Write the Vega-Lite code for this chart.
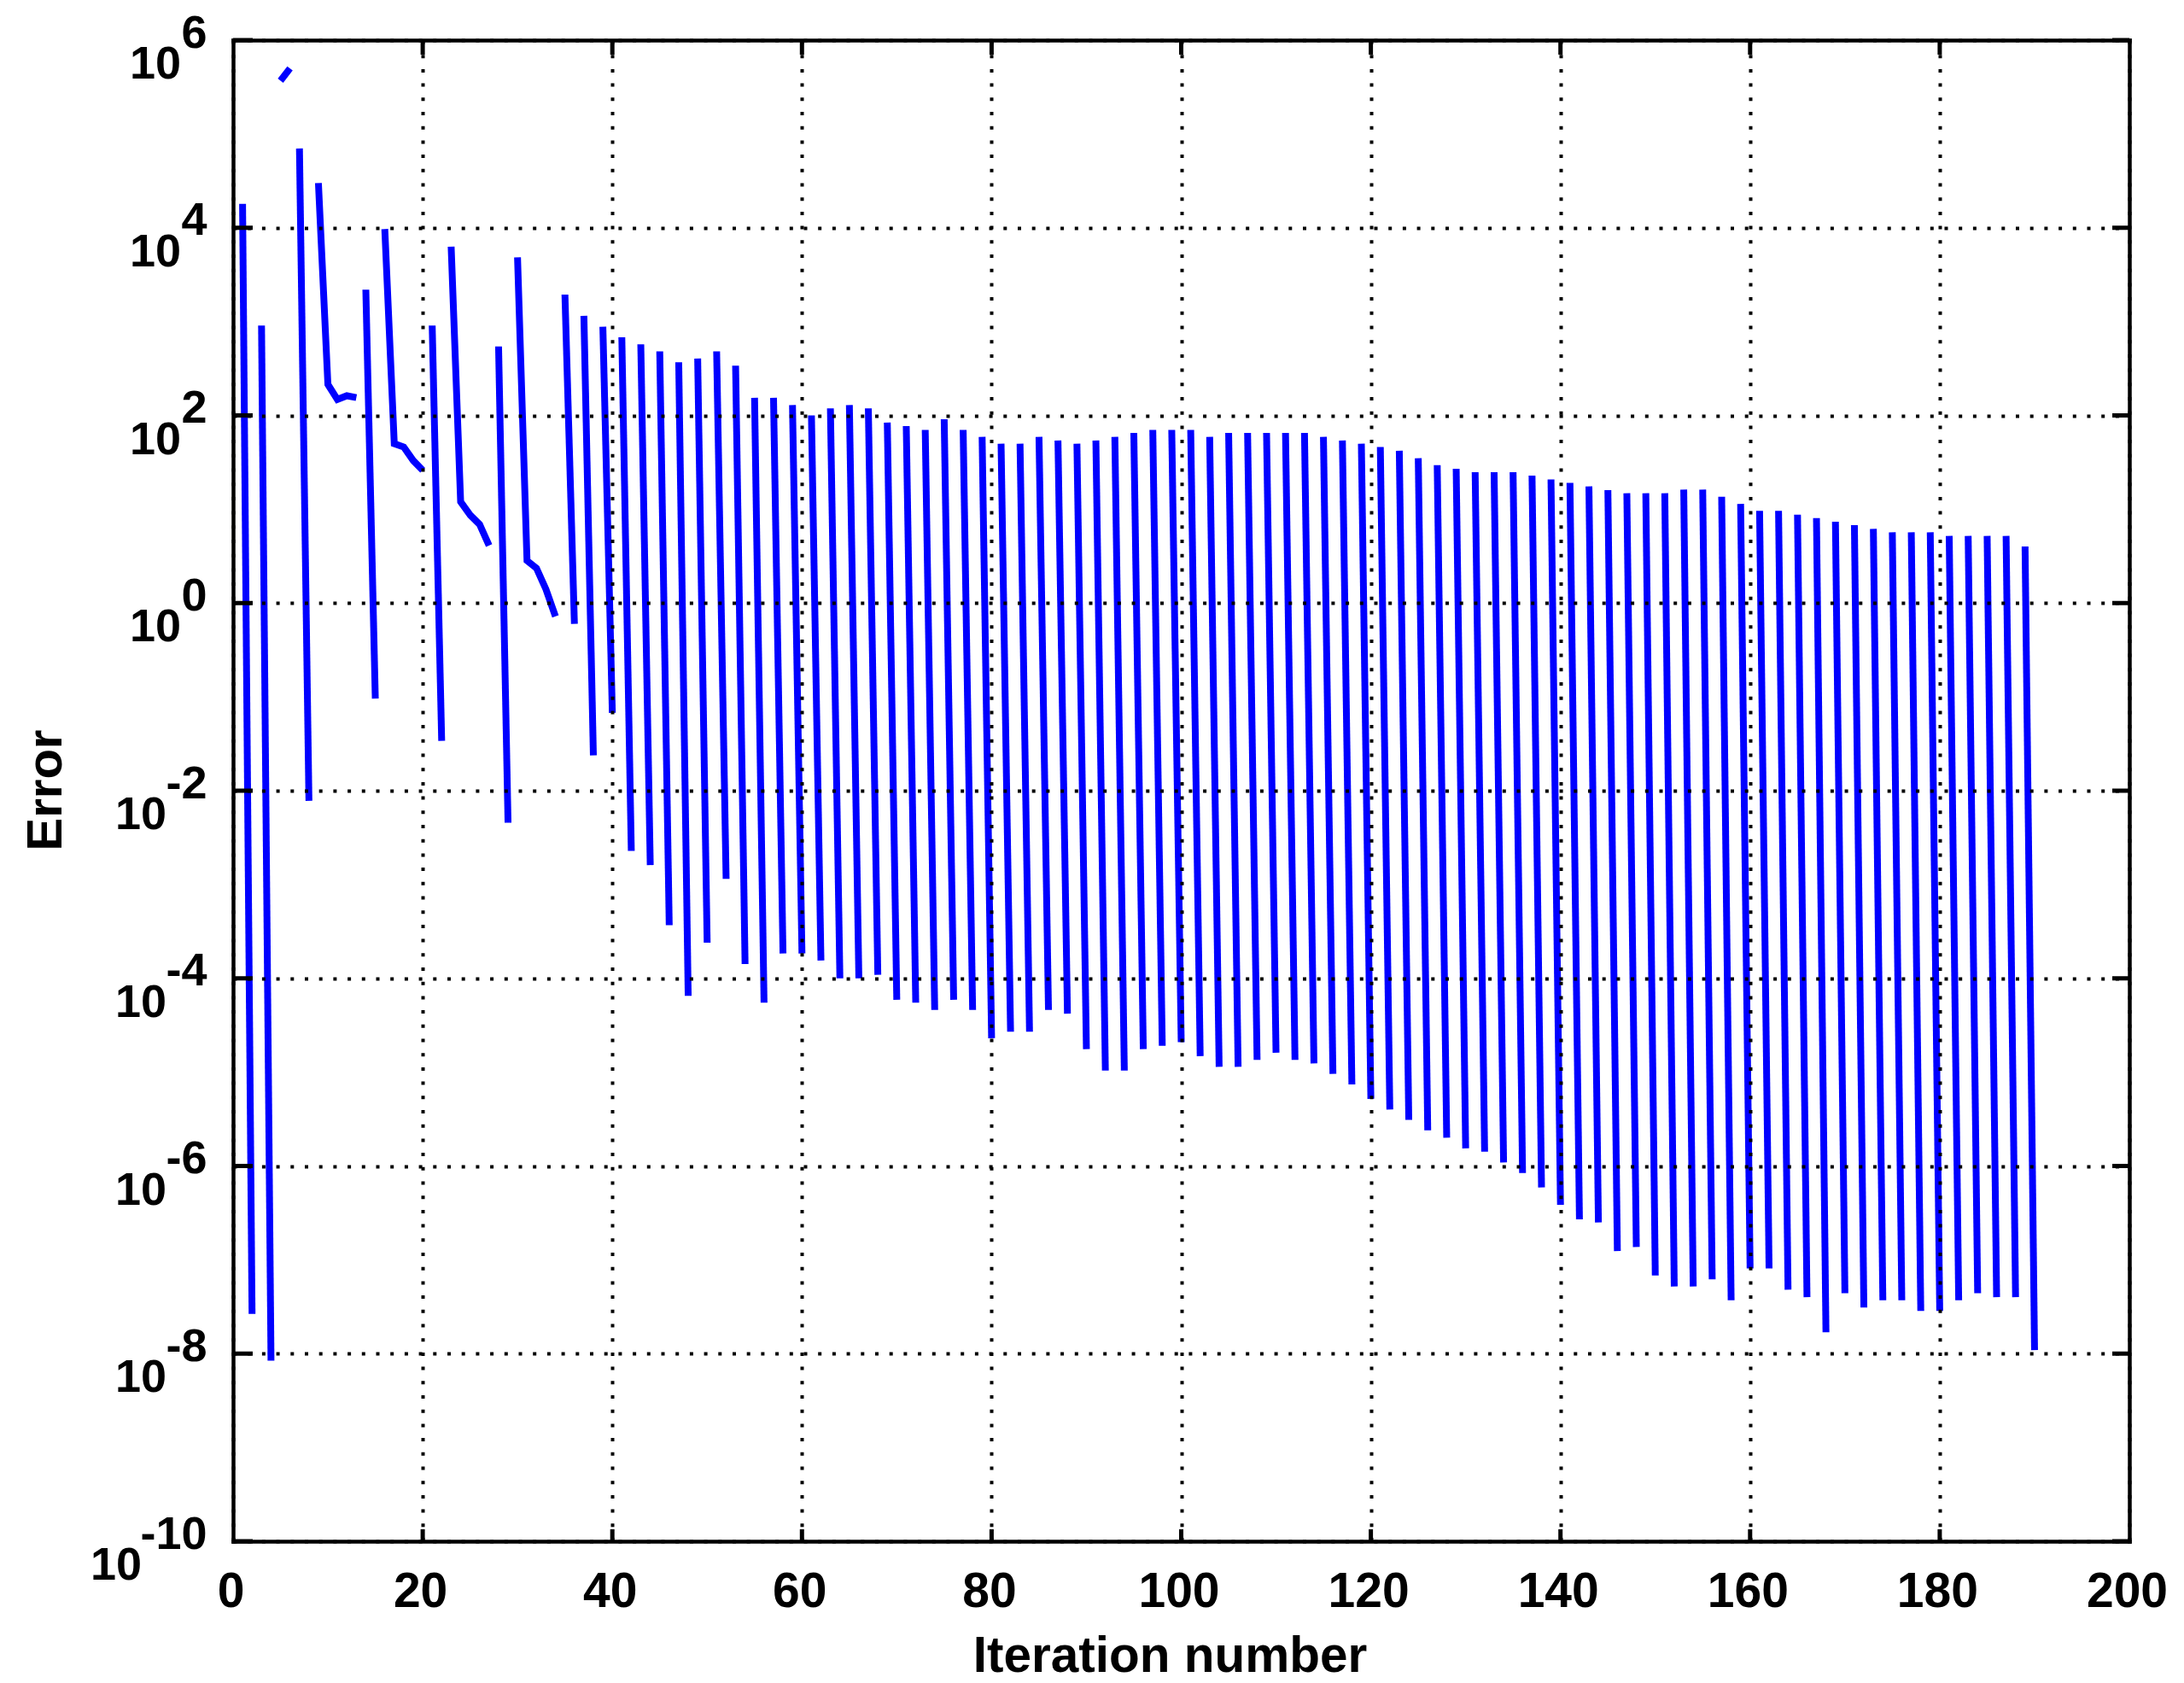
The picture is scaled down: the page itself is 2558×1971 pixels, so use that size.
{
"$schema":"https://vega.github.io/schema/vega-lite/v6.json",
"width":2221,"height":1758,
"autosize":"none",
"padding":{"left":273,"top":47,"right":64,"bottom":166},
"background":"white",
"config":{"view":{"stroke":null},"font":"Liberation Sans"},
"datasets":{
"powers":[{"value":1e6,"digits":1},{"value":1e4,"digits":1},{"value":1e2,"digits":1},{"value":1,"digits":1},{"value":1e-2,"digits":2},{"value":1e-4,"digits":2},{"value":1e-6,"digits":2},{"value":1e-8,"digits":2},{"value":1e-10,"digits":3}],
"iters":[{"value":20},{"value":40},{"value":60},{"value":80},{"value":100},{"value":120},{"value":140},{"value":160},{"value":180}],
"errors":[
{"run":1,"iter":1,"error":18000},{"run":1,"iter":2,"error":2.65e-8},
{"run":3,"iter":3,"error":908},{"run":3,"iter":4,"error":8.4e-9},
{"run":5,"iter":5,"error":370000},{"run":5,"iter":6,"error":500000},
{"run":7,"iter":7,"error":70000},{"run":7,"iter":8,"error":0.0078},
{"run":9,"iter":9,"error":30000},{"run":9,"iter":10,"error":214},{"run":9,"iter":11,"error":148},{"run":9,"iter":12,"error":162},{"run":9,"iter":13,"error":155},
{"run":14,"iter":14,"error":2190},{"run":14,"iter":15,"error":0.096},
{"run":16,"iter":16,"error":9700},{"run":16,"iter":17,"error":50},{"run":16,"iter":18,"error":46},{"run":16,"iter":19,"error":33},{"run":16,"iter":20,"error":26},
{"run":21,"iter":21,"error":908},{"run":21,"iter":22,"error":0.034},
{"run":23,"iter":23,"error":6280},{"run":23,"iter":24,"error":12},{"run":23,"iter":25,"error":8.7},{"run":23,"iter":26,"error":6.9},{"run":23,"iter":27,"error":4.1},
{"run":28,"iter":28,"error":543},{"run":28,"iter":29,"error":0.00456},
{"run":30,"iter":30,"error":4840},{"run":30,"iter":31,"error":2.83},{"run":30,"iter":32,"error":2.35},{"run":30,"iter":33,"error":1.4},{"run":30,"iter":34,"error":0.72},
{"run":35,"iter":35,"error":1940},{"run":35,"iter":36,"error":0.6},
{"run":37,"iter":37,"error":1150},{"run":37,"iter":38,"error":0.0238},
{"run":39,"iter":39,"error":882},{"run":39,"iter":40,"error":0.0676},
{"run":41,"iter":41,"error":681},{"run":41,"iter":42,"error":0.00228},
{"run":43,"iter":43,"error":572},{"run":43,"iter":44,"error":0.00161},
{"run":45,"iter":45,"error":481},{"run":45,"iter":46,"error":0.000369},
{"run":47,"iter":47,"error":369},{"run":47,"iter":48,"error":0.000065},
{"run":49,"iter":49,"error":404},{"run":49,"iter":50,"error":0.00024},
{"run":51,"iter":51,"error":481},{"run":51,"iter":52,"error":0.00115},
{"run":53,"iter":53,"error":339},{"run":53,"iter":54,"error":0.000142},
{"run":55,"iter":55,"error":154},{"run":55,"iter":56,"error":0.000055},
{"run":57,"iter":57,"error":154},{"run":57,"iter":58,"error":0.000184},
{"run":59,"iter":59,"error":129},{"run":59,"iter":60,"error":0.000184},
{"run":61,"iter":61,"error":100},{"run":61,"iter":62,"error":0.000155},
{"run":63,"iter":63,"error":119},{"run":63,"iter":64,"error":0.0001},
{"run":65,"iter":65,"error":129},{"run":65,"iter":66,"error":0.0001},
{"run":67,"iter":67,"error":119},{"run":67,"iter":68,"error":0.000109},
{"run":69,"iter":69,"error":84},{"run":69,"iter":70,"error":0.000059},
{"run":71,"iter":71,"error":77},{"run":71,"iter":72,"error":0.000055},
{"run":73,"iter":73,"error":70},{"run":73,"iter":74,"error":0.000046},
{"run":75,"iter":75,"error":91},{"run":75,"iter":76,"error":0.000059},
{"run":77,"iter":77,"error":70},{"run":77,"iter":78,"error":0.000046},
{"run":79,"iter":79,"error":59},{"run":79,"iter":80,"error":0.000023},
{"run":81,"iter":81,"error":50},{"run":81,"iter":82,"error":0.000027},
{"run":83,"iter":83,"error":50},{"run":83,"iter":84,"error":0.000027},
{"run":85,"iter":85,"error":59},{"run":85,"iter":86,"error":0.000046},
{"run":87,"iter":87,"error":54},{"run":87,"iter":88,"error":0.000042},
{"run":89,"iter":89,"error":50},{"run":89,"iter":90,"error":0.0000176},
{"run":91,"iter":91,"error":54},{"run":91,"iter":92,"error":0.0000104},
{"run":93,"iter":93,"error":59},{"run":93,"iter":94,"error":0.0000104},
{"run":95,"iter":95,"error":65},{"run":95,"iter":96,"error":0.0000176},
{"run":97,"iter":97,"error":70},{"run":97,"iter":98,"error":0.0000191},
{"run":99,"iter":99,"error":70},{"run":99,"iter":100,"error":0.0000209},
{"run":101,"iter":101,"error":70},{"run":101,"iter":102,"error":0.0000148},
{"run":103,"iter":103,"error":59},{"run":103,"iter":104,"error":0.0000114},
{"run":105,"iter":105,"error":65},{"run":105,"iter":106,"error":0.0000114},
{"run":107,"iter":107,"error":65},{"run":107,"iter":108,"error":0.0000135},
{"run":109,"iter":109,"error":65},{"run":109,"iter":110,"error":0.0000161},
{"run":111,"iter":111,"error":65},{"run":111,"iter":112,"error":0.0000135},
{"run":113,"iter":113,"error":65},{"run":113,"iter":114,"error":0.0000124},
{"run":115,"iter":115,"error":59},{"run":115,"iter":116,"error":0.0000096},
{"run":117,"iter":117,"error":54},{"run":117,"iter":118,"error":0.0000074},
{"run":119,"iter":119,"error":50},{"run":119,"iter":120,"error":0.0000052},
{"run":121,"iter":121,"error":46},{"run":121,"iter":122,"error":0.000004},
{"run":123,"iter":123,"error":42},{"run":123,"iter":124,"error":0.0000031},
{"run":125,"iter":125,"error":35},{"run":125,"iter":126,"error":0.0000024},
{"run":127,"iter":127,"error":29.5},{"run":127,"iter":128,"error":0.000002},
{"run":129,"iter":129,"error":27},{"run":129,"iter":130,"error":0.00000154},
{"run":131,"iter":131,"error":24.8},{"run":131,"iter":132,"error":0.00000142},
{"run":133,"iter":133,"error":24.8},{"run":133,"iter":134,"error":0.00000109},
{"run":135,"iter":135,"error":24.8},{"run":135,"iter":136,"error":8.4e-7},
{"run":137,"iter":137,"error":22.8},{"run":137,"iter":138,"error":5.9e-7},
{"run":139,"iter":139,"error":20.8},{"run":139,"iter":140,"error":3.85e-7},
{"run":141,"iter":141,"error":19.1},{"run":141,"iter":142,"error":2.7e-7},
{"run":143,"iter":143,"error":17.5},{"run":143,"iter":144,"error":2.5e-7},
{"run":145,"iter":145,"error":16},{"run":145,"iter":146,"error":1.24e-7},
{"run":147,"iter":147,"error":14.8},{"run":147,"iter":148,"error":1.37e-7},
{"run":149,"iter":149,"error":14.8},{"run":149,"iter":150,"error":6.8e-8},
{"run":151,"iter":151,"error":14.8},{"run":151,"iter":152,"error":5.2e-8},
{"run":153,"iter":153,"error":16.2},{"run":153,"iter":154,"error":5.2e-8},
{"run":155,"iter":155,"error":16.2},{"run":155,"iter":156,"error":6.2e-8},
{"run":157,"iter":157,"error":13.6},{"run":157,"iter":158,"error":3.7e-8},
{"run":159,"iter":159,"error":11.4},{"run":159,"iter":160,"error":8.1e-8},
{"run":161,"iter":161,"error":9.6},{"run":161,"iter":162,"error":8.1e-8},
{"run":163,"iter":163,"error":9.6},{"run":163,"iter":164,"error":4.8e-8},
{"run":165,"iter":165,"error":8.76},{"run":165,"iter":166,"error":4e-8},
{"run":167,"iter":167,"error":8.05},{"run":167,"iter":168,"error":1.69e-8},
{"run":169,"iter":169,"error":7.36},{"run":169,"iter":170,"error":4.4e-8},
{"run":171,"iter":171,"error":6.77},{"run":171,"iter":172,"error":3.1e-8},
{"run":173,"iter":173,"error":6.18},{"run":173,"iter":174,"error":3.7e-8},
{"run":175,"iter":175,"error":5.68},{"run":175,"iter":176,"error":3.7e-8},
{"run":177,"iter":177,"error":5.68},{"run":177,"iter":178,"error":2.85e-8},
{"run":179,"iter":179,"error":5.68},{"run":179,"iter":180,"error":2.85e-8},
{"run":181,"iter":181,"error":5.19},{"run":181,"iter":182,"error":3.7e-8},
{"run":183,"iter":183,"error":5.19},{"run":183,"iter":184,"error":4.4e-8},
{"run":185,"iter":185,"error":5.19},{"run":185,"iter":186,"error":4e-8},
{"run":187,"iter":187,"error":5.19},{"run":187,"iter":188,"error":4e-8},
{"run":189,"iter":189,"error":4.01},{"run":189,"iter":190,"error":1.09e-8}
]},
"resolve":{"axis":{"x":"independent","y":"independent"}},
"layer":[
{"data":{"name":"errors"},
 "mark":{"type":"line","color":"#0000ff","strokeWidth":8},
 "encoding":{
  "x":{"field":"iter","type":"quantitative","scale":{"domain":[0,200],"nice":false},
   "axis":{"title":"Iteration number","titleFontSize":58.5,"titleFontWeight":"bold","titleColor":"black","titleX":1097,"titleY":106,"titleBaseline":"top",
    "values":[0,20,40,60,80,100,120,140,160,180,200],"format":"d","labelFontSize":57,"labelFontWeight":"bold","labelColor":"black","labelPadding":31,"labelOffset":-3,"labelAngle":0,"labelFlush":false,"labelOverlap":false,"labelBound":false,
    "ticks":false,"domainColor":"black","domainWidth":4.5,"domainCap":"square",
    "grid":true,"gridColor":"black","gridWidth":4,"gridDash":[4,12.7],"zindex":1}},
  "y":{"field":"error","type":"quantitative","scale":{"type":"log","domain":[1e-10,1e6],"nice":false},
   "axis":{"title":"Error","titleFontSize":58,"titleFontWeight":"bold","titleColor":"black","titleX":-190,"titleY":878,
    "values":[1e6,1e4,1e2,1,1e-2,1e-4,1e-6,1e-8,1e-10],"labelExpr":"'' + round(log(datum.value) / LN10)","labelFontSize":54,"labelFontWeight":"bold","labelColor":"black","labelPadding":31,"labelOffset":-8,"labelBaseline":"middle","labelFlush":false,"labelOverlap":false,"labelBound":false,
    "ticks":false,"domainColor":"black","domainWidth":4.5,"domainCap":"square",
    "grid":true,"gridColor":"black","gridWidth":4,"gridDash":[4,12.7],"zindex":1}},
  "detail":{"field":"run","type":"nominal"}}},
{"data":{"name":"errors"},
 "mark":{"type":"line","opacity":0},
 "encoding":{
  "x":{"field":"iter","type":"quantitative","axis":{"orient":"top","title":null,"labels":false,"ticks":false,"domainColor":"black","domainWidth":4.5,"domainCap":"square","grid":false,"zindex":1}},
  "y":{"field":"error","type":"quantitative","axis":{"orient":"right","title":null,"labels":false,"ticks":false,"domainColor":"black","domainWidth":4.5,"domainCap":"square","grid":false,"zindex":1}},
  "detail":{"field":"run","type":"nominal"}}},
{"data":{"name":"powers"},
 "mark":{"type":"rule","strokeWidth":5,"color":"black","x2Offset":23},
 "encoding":{"x":{"datum":0,"type":"quantitative","axis":null},"x2":{"datum":0},"y":{"field":"value","type":"quantitative","axis":null}}},
{"data":{"name":"powers"},
 "mark":{"type":"rule","strokeWidth":5,"color":"black","x2Offset":-20},
 "encoding":{"x":{"datum":200,"type":"quantitative","axis":null},"x2":{"datum":200},"y":{"field":"value","type":"quantitative","axis":null}}},
{"data":{"name":"iters"},
 "mark":{"type":"rule","strokeWidth":5,"color":"black","y2Offset":-14},
 "encoding":{"x":{"field":"value","type":"quantitative","axis":null},"y":{"datum":1e-10,"type":"quantitative","axis":null},"y2":{"datum":1e-10}}},
{"data":{"name":"iters"},
 "mark":{"type":"rule","strokeWidth":5,"color":"black","y2Offset":17},
 "encoding":{"x":{"field":"value","type":"quantitative","axis":null},"y":{"datum":1e6,"type":"quantitative","axis":null},"y2":{"datum":1e6}}},
{"data":{"name":"powers"},"transform":[{"filter":"datum.digits == 1"}],
 "mark":{"type":"text","text":"10","align":"right","baseline":"alphabetic","fontSize":54,"fontWeight":"bold","color":"black","dx":-61,"dy":45},
 "encoding":{"x":{"datum":0,"type":"quantitative","axis":null},"y":{"field":"value","type":"quantitative","axis":null}}},
{"data":{"name":"powers"},"transform":[{"filter":"datum.digits == 2"}],
 "mark":{"type":"text","text":"10","align":"right","baseline":"alphabetic","fontSize":54,"fontWeight":"bold","color":"black","dx":-78,"dy":45},
 "encoding":{"x":{"datum":0,"type":"quantitative","axis":null},"y":{"field":"value","type":"quantitative","axis":null}}},
{"data":{"name":"powers"},"transform":[{"filter":"datum.digits == 3"}],
 "mark":{"type":"text","text":"10","align":"right","baseline":"alphabetic","fontSize":54,"fontWeight":"bold","color":"black","dx":-107,"dy":45},
 "encoding":{"x":{"datum":0,"type":"quantitative","axis":null},"y":{"field":"value","type":"quantitative","axis":null}}}
]
}
